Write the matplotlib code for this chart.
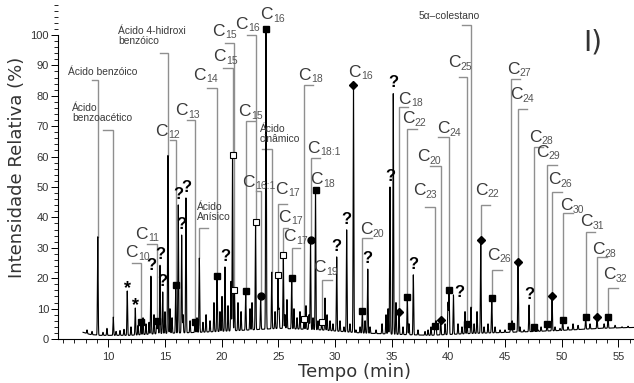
import numpy as np
import matplotlib
matplotlib.use("Agg")
import matplotlib.pyplot as plt
from matplotlib.ticker import MultipleLocator

plt.rcParams["font.family"] = ["Liberation Sans", "DejaVu Sans"]

# ---------------------------------------------------------------------------
# Chromatogram data: retention time (min) and relative intensity (%)
# ---------------------------------------------------------------------------
baseline_time = [7.77, 8.38, 9.26, 11.9, 14.6, 18.1, 21.6, 25.1, 28.7, 32.2,
                 35.7, 38.4, 41.9, 46.3, 49.9, 53.4, 56.4]
baseline_level = [2.2, 1.5, 1.2, 1.2, 1.8, 2.2, 2.8, 3.5, 3.0, 2.0,
                  1.5, 1.2, 1.8, 2.3, 2.8, 3.5, 3.8]

# identified compounds
cmp_label = ["Ácido benzóico", "Ácido\nbenzoacético", "Ácido 4-hidroxi\nbenzóico",
             "10", "11", "12", "13", "Ácido\nAnísico", "14",
             "15", "15", "15", "16", "16:1", "16", "Ácido\ncinâmico",
             "17", "17", "17", "18", "18:1", "18", "19",
             "16", "20", "18", "22", "23", "20", "24", "25", "5α–colestano",
             "22", "26", "27", "24", "28", "29", "26", "30", "31", "28", "32"]
cmp_time = [9.07, 10.44, 15.26,
            12.88, 14.27, 15.95, 17.65, 18.03, 19.59,
            20.96, 21.13, 22.12, 22.99, 23.44, 23.91, 24.42,
            24.97, 25.44, 26.18, 27.27, 27.84, 28.28, 28.83,
            31.63, 32.41, 35.65, 36.38, 38.82, 39.33, 40.06, 41.65, 42.0,
            42.86, 43.83, 45.5, 46.15, 47.56, 48.71, 49.15, 50.09, 52.12, 53.12, 54.09]
cmp_height = [33.6, 7.2, 60.5,
              5.6, 5.8, 17.6, 5.6, 26.6, 20.7,
              60.5, 16.1, 15.8, 38.5, 14.0, 102.0, 22.0,
              20.9, 27.5, 20.1, 6.6, 32.7, 49.0, 5.6,
              83.7, 9.2, 9.0, 13.8, 4.4, 6.25, 16.1, 4.9, 10.5,
              32.7, 13.5, 4.4, 25.3, 3.9, 4.8, 14.0, 6.25, 7.2, 7.1, 7.2]
# compound class: chain-length series drawn with a symbol, "" = named compound
cmp_class = ["", "", "",
             "sat", "sat", "sat", "sat", "", "sat",
             "branch", "branch", "sat", "branch", "unsat", "sat", "",
             "branch", "branch", "sat", "branch", "unsat", "sat", "branch",
             "alc", "sat", "alc", "sat", "sat", "alc", "sat", "sat", "",
             "alc", "sat", "sat", "alc", "sat", "sat", "alc", "sat", "sat", "alc", "sat"]

# unidentified peaks (?) and contaminants (*)
unknown_time = [13.76, 14.56, 14.80, 16.17, 16.47, 16.85, 20.29, 30.15, 31.03,
                32.89, 34.85, 35.14, 36.91, 40.45, 47.12]
unknown_height = [20.7, 24.3, 15.5, 44.1, 34.2, 46.4, 23.7, 27.0, 35.9,
                  23.0, 50.0, 80.9, 21.1, 14.5, 11.2]
star_time = [11.67, 12.38]
star_height = [15.8, 10.2]

# small unassigned peaks along the trace
minor_time = [8.12, 8.56, 9.53, 9.88, 10.68, 11.03, 11.38, 12.0, 12.62, 13.06,
              13.32, 13.59, 14.03, 14.38, 15.0, 15.44, 15.62, 16.59, 17.21, 17.82,
              18.35, 18.62, 18.97, 19.32, 19.85, 20.03, 20.56, 20.82, 21.44, 21.71,
              22.5, 22.68, 24.71, 25.06, 25.59, 25.76, 26.38, 26.65, 26.91, 27.44,
              27.71, 28.06, 28.5, 29.12, 29.3, 29.56, 29.82, 30.44, 30.79, 31.32,
              31.85, 32.21, 32.65, 33.09, 33.62, 34.15, 34.5, 34.68, 35.38, 36.0,
              36.53, 37.32, 37.94, 38.21, 38.47, 38.91, 39.71, 39.97, 40.85, 41.2,
              41.47, 42.27, 42.53, 43.15, 43.5, 44.12, 44.56, 45.0, 45.62, 46.32,
              46.68, 47.91, 48.18, 49.41, 49.85, 50.56, 51.0, 51.44, 52.5, 53.74,
              54.71, 55.32, 55.85]
minor_height = [3.0, 2.5, 2.2, 3.5, 2.5, 2.8, 3.2, 4.0, 4.5, 7.0,
                5.0, 5.5, 8.0, 6.5, 9.0, 10.0, 7.0, 8.0, 6.0, 7.0,
                5.5, 8.0, 6.0, 12.0, 9.0, 14.0, 11.0, 19.0, 12.0, 9.0,
                10.0, 12.0, 9.0, 10.0, 8.0, 13.0, 10.0, 7.0, 9.0, 11.0,
                8.0, 7.0, 6.0, 13.5, 8.0, 6.0, 5.0, 6.0, 4.0, 5.0,
                3.0, 4.0, 6.0, 4.0, 3.0, 5.0, 8.0, 10.0, 12.0, 4.0,
                5.0, 3.0, 2.5, 3.0, 4.0, 6.0, 5.0, 12.0, 5.0, 4.0,
                9.0, 5.0, 9.0, 4.0, 5.0, 4.0, 3.0, 3.0, 6.0, 4.0,
                3.0, 3.0, 4.0, 4.0, 3.5, 4.0, 5.0, 4.5, 5.0, 5.0,
                4.5, 4.0, 4.2]

# ---------------------------------------------------------------------------
# Label layout: text anchor (time, %), leader knee height and knee end time
# ---------------------------------------------------------------------------
label_x = [6.44, 6.79, 10.85,
           11.47, 12.35, 14.12, 15.88, 17.82, 17.47,
           19.24, 19.15, 21.44, 21.18, 21.79, 23.38, 23.38,
           24.71, 24.97, 25.41, 26.74, 27.53, 27.80, 28.06,
           31.15, 32.21, 35.56, 35.91, 36.88, 37.24, 39.0, 39.97, 40.06,
           42.35, 43.41, 45.18, 45.44, 47.12, 47.74, 48.8, 49.85, 51.62, 52.68, 53.65]
label_y = [87.8, 74.3, 99.7,
           28.3, 34.5, 68.4, 75.0, 41.8, 86.8,
           92.8, 101.3, 74.7, 103.6, 51.6, 106.6, 67.4,
           49.3, 40.1, 33.6, 86.8, 62.8, 52.3, 23.4,
           87.8, 35.9, 78.9, 72.4, 48.7, 59.9, 69.1, 90.8, 106.3,
           49.0, 27.6, 88.8, 80.3, 66.4, 61.5, 52.3, 43.75, 38.5, 29.3, 21.1]
knee_y = [85.2, 68.75, 94.1,
          25.0, 31.25, 65.5, 72.0, 36.5, 82.6,
          89.1, 97.4, 71.7, 100.0, 48.7, None, 62.5,
          44.4, 36.5, 29.9, 83.6, 59.5, None, 19.4,
          None, 33.2, 76.3, 69.1, 43.4, 56.9, 66.4, 86.2, 103.3,
          44.1, 22.7, 85.5, 75.7, 63.2, 57.2, 48.4, 41.4, 35.2, 27.0, 16.8]
knee_x = [8.56, 9.53, 14.56,
          12.09, 13.41, 15.44, 16.94, 18.79, 18.71,
          20.12, 20.29, 22.94, 22.24, 23.03, None, 23.56,
          25.76, 25.85, 26.91, 28.06, 28.68, None, 29.73,
          None, 33.27, 36.44, 37.24, 37.94, 38.38, 39.09, 40.94, 41.21,
          43.68, 44.74, 46.32, 46.94, 48.35, 49.59, 50.03, 51.0, 52.94, 54.0, 54.97]

LEADER = "#8f8f8f"
TEXT = "#3a3a3a"
marker_style = {
    "sat": dict(marker="s", ms=4.4, mfc="black", mec="black"),
    "branch": dict(marker="s", ms=4.4, mfc="white", mec="black", mew=0.8),
    "unsat": dict(marker="o", ms=5.0, mfc="black", mec="black"),
    "alc": dict(marker="D", ms=3.8, mfc="black", mec="black"),
}

fig = plt.figure(figsize=(6.34, 3.83), dpi=100)
ax = fig.add_axes([58 / 634, 44 / 383, 576 / 634, 339 / 383])
ax.set_xlim(5.56, 56.38)
ax.set_ylim(0, 111.5)

# ---- trace built from the peak table -------------------------------------
t = np.arange(7.77, 56.38, 0.004)
signal = np.interp(t, baseline_time, baseline_level)
all_t = cmp_time + unknown_time + star_time + minor_time
all_h = cmp_height + unknown_height + star_height + minor_height
for pt, ph in zip(all_t, all_h):
    base = np.interp(pt, baseline_time, baseline_level)
    signal += (ph - base) * np.exp(-0.5 * ((t - pt) / 0.03) ** 2)
ax.plot(t, signal, color="black", lw=0.8, zorder=3)

# ---- leaders, markers and labels ----------------------------------------
for i, lab in enumerate(cmp_label):
    pt, ph, cls = cmp_time[i], cmp_height[i], cmp_class[i]
    if knee_y[i] is not None:
        ax.plot([knee_x[i], pt, pt], [knee_y[i], knee_y[i], ph],
                color=LEADER, lw=1.0, zorder=2, solid_joinstyle="miter")
    if cls:
        ax.plot([pt], [ph], ls="none", zorder=5, **marker_style[cls])
        ax.text(label_x[i], label_y[i], "C", fontsize=12.5, color=TEXT,
                ha="left", va="center", zorder=6)
        ax.annotate(lab, xy=(label_x[i], label_y[i]), xytext=(9.2, -3.0),
                    textcoords="offset points", fontsize=7.5, color="#555555",
                    ha="left", va="center", zorder=6)
    else:
        ha = "center" if lab.startswith("5") else "left"
        ax.text(label_x[i], label_y[i], lab, fontsize=7.4, color=TEXT,
                ha=ha, va="center", linespacing=1.05, zorder=6)

for pt, ph in zip(unknown_time, unknown_height):
    dx = 4.5 if pt == 40.45 else 0.0
    dy = 1.5 if pt == 40.45 else 7.5
    ax.annotate("?", xy=(pt, ph), xytext=(dx, dy), textcoords="offset points",
                fontsize=12, fontweight="bold", color="black",
                ha="center", va="center", zorder=6)
for pt, ph in zip(star_time, star_height):
    ax.annotate("*", xy=(pt, ph), xytext=(0, 1.5), textcoords="offset points",
                fontsize=13, fontweight="bold", color="black",
                ha="center", va="center", zorder=6)

fig.text(593 / 634, 1 - 42 / 383, "I)", fontsize=20, color="#333333",
         ha="center", va="center", family="DejaVu Sans")

# ---- axes styling -------------------------------------------------------
for s in ("top", "right"):
    ax.spines[s].set_visible(False)
ax.spines["left"].set_bounds(0, 100)
ax.spines["left"].set_linewidth(0.8)
ax.spines["bottom"].set_linewidth(0.8)
ax.set_yticks(range(0, 101, 10))
ax.yaxis.set_minor_locator(MultipleLocator(2))
ax.set_xticks(range(10, 56, 5))
ax.xaxis.set_minor_locator(MultipleLocator(1))
ax.tick_params(axis="both", which="major", direction="out", labelsize=8,
               labelcolor="#333333", width=0.7)
ax.tick_params(axis="x", which="major", length=6)
ax.tick_params(axis="y", which="major", length=5, pad=1.5)
ax.tick_params(axis="both", which="minor", direction="out", length=3, width=0.6)

ax.set_ylabel("Intensidade Relativa (%)", fontsize=13, color="#333333",
              family="DejaVu Sans")
ax.yaxis.set_label_coords(-(58 - 26) / 576, 0.505)
ax.set_xlabel("Tempo (min)", fontsize=13, color="#333333", family="DejaVu Sans")
ax.xaxis.set_label_coords(0.514, -0.072)

fig.savefig("out.png", dpi=100)
